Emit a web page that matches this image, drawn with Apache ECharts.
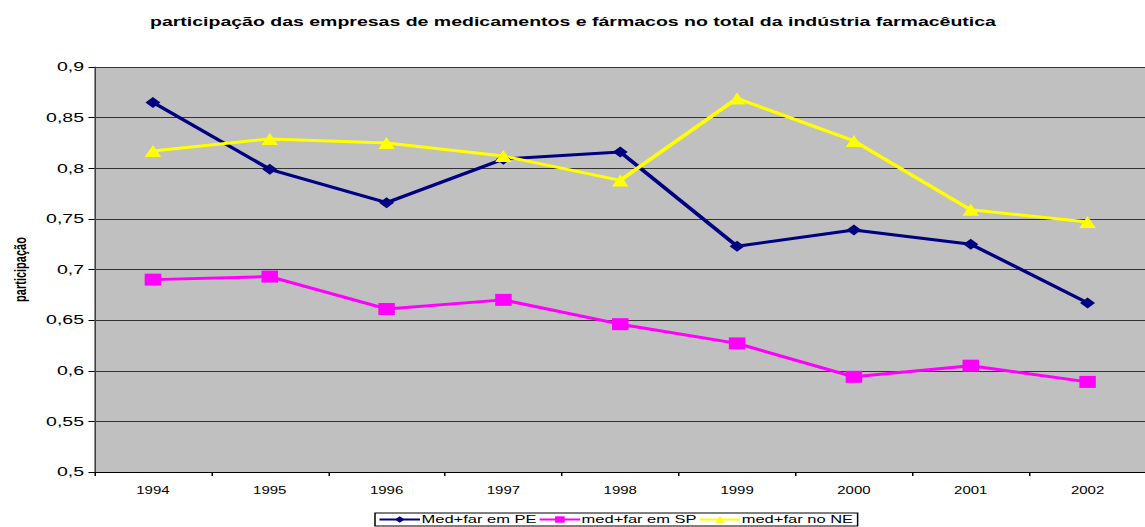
<!DOCTYPE html>
<html>
<head>
<meta charset="utf-8">
<script src="https://cdn.jsdelivr.net/npm/echarts@6/dist/echarts.min.js"></script>
<style>
html,body{margin:0;padding:0;background:#fff;overflow:hidden;}
#wrap{width:1145px;height:527px;overflow:hidden;}
#chart{width:764px;height:527px;transform:scaleX(1.5);transform-origin:0 0;}
</style>
</head>
<body>
<div id="wrap"><div id="chart"></div></div>
<script>
const categories = ['1994','1995','1996','1997','1998','1999','2000','2001','2002'];
const pe = [0.865, 0.799, 0.766, 0.809, 0.816, 0.723, 0.739, 0.725, 0.667];
const sp = [0.690, 0.693, 0.661, 0.670, 0.646, 0.627, 0.594, 0.605, 0.589];
const ne = [0.817, 0.829, 0.825, 0.812, 0.788, 0.869, 0.827, 0.759, 0.747];
const seriesNames = ['Med+far em PE', 'med+far em SP', 'med+far no NE'];
const titleText = 'participação das empresas de medicamentos e fármacos no total da indústria farmacêutica';
const yAxisName = 'participação';

const chart = echarts.init(document.getElementById('chart'), null, {renderer: 'svg'});
const font = 'Liberation Sans, Arial, sans-serif';
chart.setOption({
  backgroundColor: '#ffffff',
  animation: false,
  title: {
    text: titleText,
    left: 'center',
    top: 10,
    textStyle: {fontFamily: font, fontSize: 13, fontWeight: 'bold', color: '#000'}
  },
  legend: {
    data: seriesNames,
    bottom: 1,
    left: 250,
    itemWidth: 27,
    itemHeight: 8,
    itemGap: 1,
    padding: [1, 3, 1, 2],
    borderColor: '#000',
    borderWidth: 1,
    textStyle: {fontFamily: font, fontSize: 11, color: '#000', padding: [0, 0, 0, -4]}
  },
  grid: {left: 60, right: 0, top: 67, bottom: 55, show: true, backgroundColor: '#c0c0c0', borderWidth: 0},
  xAxis: {
    type: 'category',
    data: categories,
    boundaryGap: true,
    axisLine: {lineStyle: {color: '#000', width: 1}},
    axisTick: {show: true, length: 4, lineStyle: {color: '#000'}},
    axisLabel: {fontFamily: font, fontSize: 10, color: '#000', margin: 13}
  },
  yAxis: {
    type: 'value',
    min: 0.5, max: 0.9, interval: 0.05,
    name: yAxisName,
    nameLocation: 'middle',
    nameGap: 44,
    nameRotate: 90,
    nameTextStyle: {fontFamily: font, fontSize: 11, fontWeight: 'bold', color: '#000'},
    axisLine: {show: true, lineStyle: {color: '#404040', width: 1}},
    axisTick: {show: true, length: 4, lineStyle: {color: '#000'}},
    axisLabel: {
      fontFamily: font, fontSize: 13, color: '#000', margin: 7,
      formatter: v => parseFloat(v.toFixed(2)).toString().replace('.', ',')
    },
    splitLine: {show: true, lineStyle: {color: '#333', width: 1}}
  },
  series: [
    {name: seriesNames[0], type: 'line', data: pe, symbol: 'diamond', symbolSize: [10, 11],
     lineStyle: {color: '#000080', width: 3}, itemStyle: {color: '#000080'}},
    {name: seriesNames[1], type: 'line', data: sp, symbol: 'rect', symbolSize: [11, 12],
     lineStyle: {color: '#ff00ff', width: 3}, itemStyle: {color: '#ff00ff'}},
    {name: seriesNames[2], type: 'line', data: ne, symbol: 'triangle', symbolSize: [11, 12],
     lineStyle: {color: '#ffff00', width: 3}, itemStyle: {color: '#ffff00'}}
  ]
});
</script>
</body>
</html>
